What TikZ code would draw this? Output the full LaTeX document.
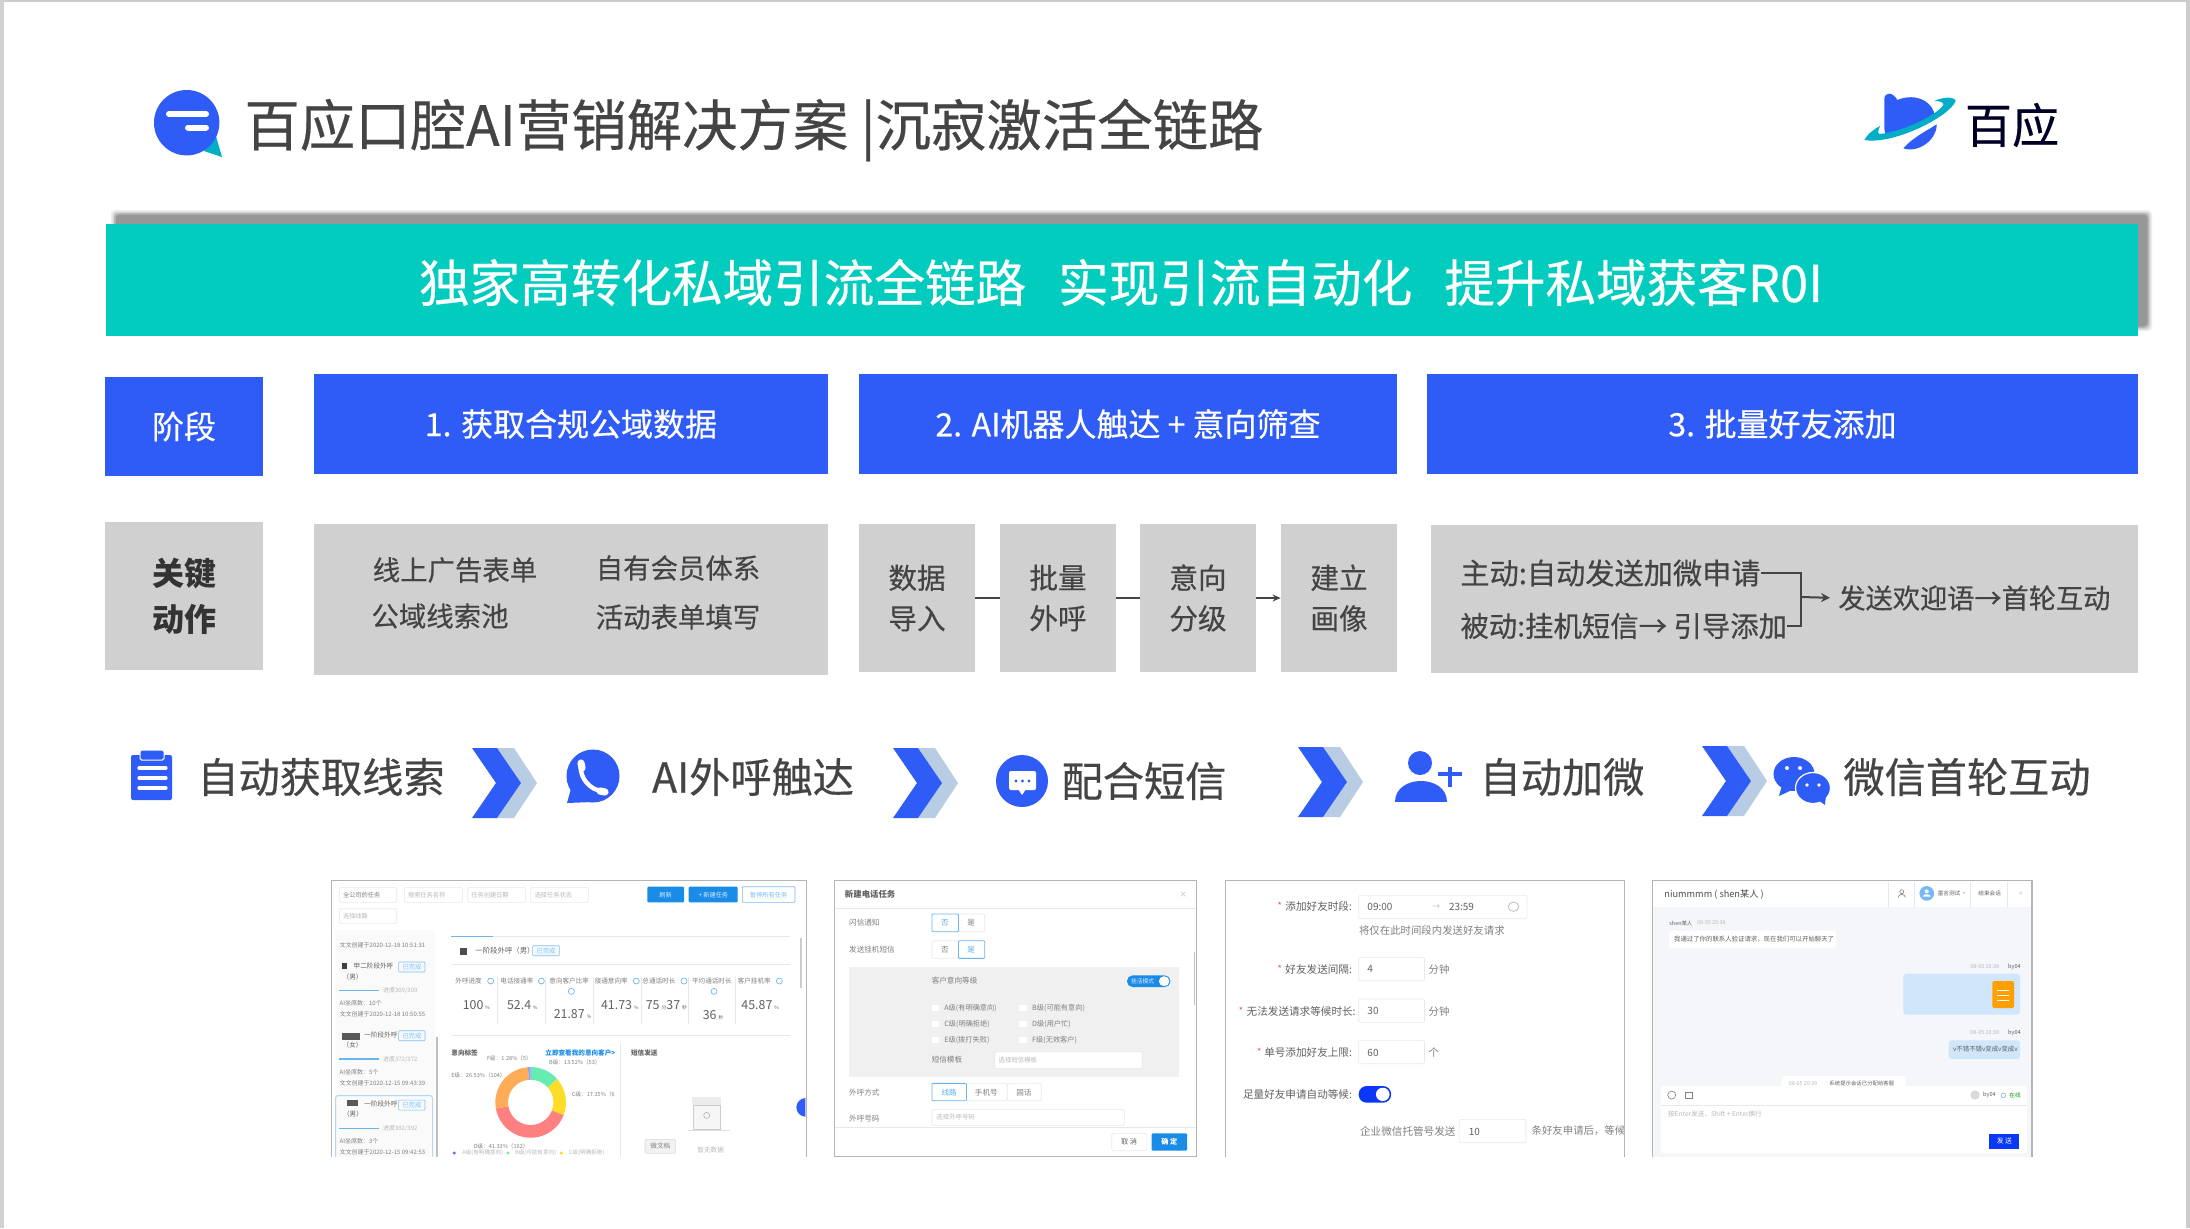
\documentclass[tikz,border=0pt]{standalone}
\usepackage{fontspec}
\setmainfont{Noto Sans CJK SC}
\newfontfamily\medf[FakeBold=0.4]{Noto Sans CJK SC}
\usetikzlibrary{arrows.meta,calc}
\definecolor{bblue}{HTML}{2F5CF6}
\definecolor{teal}{HTML}{02CCBD}
\definecolor{keygray}{HTML}{D0D0D0}
\definecolor{tdark}{HTML}{444444}
\definecolor{chevl}{HTML}{B8CCE4}
\definecolor{uiblue}{HTML}{1A8CE8}
\definecolor{uibord}{HTML}{E6E8EC}
\definecolor{uitext}{HTML}{808080}
\definecolor{uidark}{HTML}{606060}
\definecolor{uilight}{HTML}{B8B8B8}
\definecolor{frame}{HTML}{B4B4B4}
\definecolor{chatbg}{HTML}{F4F6FA}
\definecolor{bubble}{HTML}{CFE6FB}
\newcommand{\fs}[1]{\fontsize{#1pt}{#1pt}\selectfont}
\newcounter{uic}
\newcommand{\ui}[5]{\stepcounter{uic}\node[anchor=west,inner sep=0pt,text=#4,font=\fs{#3}] (u\theuic) at (#1,#2) {#5};}
\newcommand{\ur}[5]{\stepcounter{uic}\node[anchor=east,inner sep=0pt,text=#4,font=\fs{#3}] (u\theuic) at (#1,#2) {#5};}
\newcommand{\uc}[5]{\stepcounter{uic}\node[anchor=center,inner sep=0pt,text=#4,font=\fs{#3}] (u\theuic) at (#1,#2) {#5};}
\newcommand{\ubox}[3]{\draw[draw=uibord,fill=#3,line width=0.35pt,rounded corners=0.7pt] (#1) rectangle (#2);}
\newcommand{\chev}[2]{\begin{scope}[shift={(#1,#2)}]
\fill[chevl] (25,0)--(42,0)--(65,35)--(42,70)--(25,70)--(49,35)--cycle;
\fill[bblue] (0,0)--(25,0)--(49,35)--(25,70)--(0,70)--(24,35)--cycle;
\end{scope}}
\newcommand{\badge}[3]{\draw[draw=uiblue!55,fill=uiblue!5,line width=0.3pt,rounded corners=0.4pt] (#1,#2) rectangle (#3,#2+30);\uc{#1/2+#3/2}{#2+15}{3.2}{uiblue!55}{已完成}}
\newcommand{\qm}[2]{\draw[uiblue!70,line width=0.3pt] (#1,#2) circle[radius=9];}
\newcommand{\seg}[3]{\fill[#3] (#1:106) arc[start angle=#1,end angle=#2,radius=106] -- (#2:68) arc[start angle=#2,end angle=#1,radius=68] -- cycle;}
\newcommand{\dn}[1]{\raisebox{-1.4pt}{#1}}
\tikzset{
 stagebox/.style={fill=bblue,text=white,inner sep=0pt,font=\medf\fs{16}},
 keybox/.style={fill=keygray,text=tdark,inner sep=0pt,font=\medf\fs{14.3},align=center},
 steptext/.style={anchor=center,inner sep=0pt,text=tdark,font=\medf\fs{20.6}},
 smalltext/.style={anchor=center,inner sep=0pt,text=tdark,font=\medf\fs{13.7}},
 link/.style={draw=tdark,line width=0.8pt},
 s1/.style={x=0.16667pt,y=-0.16667pt,shift={(930,2610)}},
 s23/.style={x=0.2615pt,y=-0.16667pt,shift={(1567.8,2610)}},
 s4/.style={x=0.16667pt,y=-0.16667pt,shift={(4890,2610)}},
 framed/.style={draw=frame,line width=0.75pt},
}
\begin{document}
\begin{tikzpicture}[x=0.5pt,y=-0.5pt]
\useasboundingbox (0,0) rectangle (2190,1228);
\fill[white] (0,0) rectangle (2190,1228);
% page edges
\fill[black!20] (0,0) rectangle (2190,2);
\fill[black!18] (0,0) rectangle (4,1228);
\fill[black!20] (2186,0) rectangle (2190,1228);

% header logo
\fill[teal!85!blue] (204,151)--(216,136)--(222,157)--cycle;
\fill[bblue] (186.7,122.7) circle[radius=32.7];
\draw[white,line width=3pt,line cap=round] (169,114)--(206,114);
\draw[white,line width=3pt,line cap=round] (188,127.5)--(206,127.5);
\node[anchor=west,inner sep=0pt,text=tdark,font=\medf\fs{27.7}] (title) at (244,130) {百应口腔AI营销解决方案 |沉寂激活全链路};

% right logo
\begin{scope}[x=0.16667pt,y=-0.16667pt,shift={(5520,210)}]
\fill[bblue] (133,85) .. controls (135,66) and (158,65) .. (172,90) .. controls (230,65) and (285,100) .. (283,140) .. controls (240,165) and (190,190) .. (150,197) .. controls (135,195) and (133,185) .. (133,175) -- cycle;
\fill[bblue] (190,235) .. controls (215,205) and (255,185) .. (290,163) .. controls (290,210) and (235,250) .. (190,235) -- cycle;
\fill[teal!85!blue] (73,210) .. controls (160,225) and (330,140) .. (347,92) .. controls (340,78) and (305,82) .. (283,93) .. controls (300,93) and (312,97) .. (310,105) .. controls (290,135) and (190,185) .. (118,192) .. controls (112,190) and (115,178) .. (120,168) .. controls (100,178) and (80,195) .. (73,210) -- cycle;
\end{scope}
\node[inner sep=0pt,text=black!85!blue,font=\medf\fs{23.6}] (logotext) at (2012,125) {百应};

% banner
\foreach \g/\o in {5/0.12,3.5/0.2,2/0.3,0.5/0.45}{
 \fill[black!55,opacity=\o,rounded corners=2pt] (116-\g,215-\g) rectangle (2147+\g,326+\g);
}
\node[fill=teal,minimum width=1016pt,minimum height=56pt,inner sep=0pt] (banner) at (1122,280) {};
\node[inner sep=0pt,text=white,font=\medf\fs{25.3}] (bannertext) at (1121,282.5) {独家高转化私域引流全链路\hspace{16pt}实现引流自动化\hspace{16pt}提升私域获客R0I};

% stage row
\node[stagebox,minimum width=79pt,minimum height=49.5pt] (st0) at (184,426.5) {\raisebox{-0.7pt}{阶段}};
\node[stagebox,minimum width=257pt,minimum height=50pt] (st1) at (571,424) {\dn{1. 获取合规公域数据}};
\node[stagebox,minimum width=269pt,minimum height=50pt] (st2) at (1128,424) {\dn{2. AI机器人触达 + 意向筛查}};
\node[stagebox,minimum width=355.5pt,minimum height=50pt] (st3) at (1782.5,424) {\dn{3. 批量好友添加}};

% key row
\node[keybox,minimum width=79pt,minimum height=74pt,font=\bfseries\fs{16},text=black!80] (k0) at (184,596) {关键\\[7pt]动作};
\node[keybox,minimum width=257pt,minimum height=75.5pt] (k1) at (571,599.5) {};
\node[smalltext] (k1a) at (455,570) {线上广告表单};
\node[smalltext] (k1b) at (440,616) {公域线索池};
\node[smalltext] (k1c) at (678,568) {自有会员体系};
\node[smalltext] (k1d) at (678,617) {活动表单填写};
\node[keybox,minimum width=58pt,minimum height=74pt] (d1) at (917,598) {数据\\[6pt]导入};
\node[keybox,minimum width=58pt,minimum height=74pt] (d2) at (1058,598) {批量\\[6pt]外呼};
\node[keybox,minimum width=58pt,minimum height=74pt] (d3) at (1198,598) {意向\\[6pt]分级};
\node[keybox,minimum width=58pt,minimum height=74pt] (d4) at (1339,598) {建立\\[6pt]画像};
\draw[link] (d1) -- (d2);
\draw[link] (d2) -- (d3);
\draw[link,-{Stealth[length=4pt,width=3.5pt]}] (d3) -- (d4);
\node[keybox,minimum width=353.5pt,minimum height=74pt] (k5) at (1784.5,599) {};
\node[inner sep=0pt,anchor=west,text=tdark,font=\medf\fs{14.6}] (a1) at (1460,573) {主动:自动发送加微申请};
\node[inner sep=0pt,anchor=west,text=tdark,font=\medf\fs{14.2}] (a2) at (1460,626) {被动:挂机短信→ 引导添加};
\node[inner sep=0pt,anchor=west,text=tdark,font=\medf\fs{13.6}] (a3) at (1838,598) {发送欢迎语→首轮互动};
\coordinate (jn) at (1801,597);
\draw[link] (a1.east) -| (jn);
\draw[link] (a2.east) -| (jn);
\draw[link,line width=1pt,-{Stealth[length=4.5pt,width=4.5pt]},shorten >=4pt] (jn) -- (a3.west);

% step row
\fill[bblue,rounded corners=1pt] (131,755) rectangle (172,800);
\fill[bblue,draw=white,line width=0.5pt,rounded corners=0.8pt] (140,750) rectangle (164,760);
\foreach \yy in {768,778,788}{\draw[white,line width=1.6pt,line cap=round] (139,\yy)--(166,\yy);}
\node[steptext] (t1) at (321,777) {自动获取线索};
\chev{472}{748}
\fill[bblue] (593,776) circle[radius=26.5];
\fill[bblue] (572,785)--(567,803)--(592,802)--cycle;
\draw[white,line width=2.2pt,line cap=round] (581,765) .. controls (579,778) and (591,791) .. (603,791);
\draw[white,line width=3.6pt,line cap=round] (581,763)--(582,768);
\draw[white,line width=3.6pt,line cap=round] (600,791)--(605,792);
\node[steptext] (t2) at (753,777) {AI外呼触达};
\chev{893}{748}
\fill[bblue] (1022,781) circle[radius=26];
\fill[white,rounded corners=1pt] (1009,771) rectangle (1036,790);
\fill[white] (1018,789)--(1026,789)--(1022,795)--cycle;
\foreach \xx in {1016,1022.5,1029}{\fill[bblue] (\xx,781) circle[radius=1.7];}
\node[steptext] (t3) at (1144,781) {配合短信};
\chev{1298}{747}
\fill[bblue] (1420,763) circle[radius=12];
\fill[bblue] (1395,802) .. controls (1395,774) and (1447,774) .. (1447,802) -- cycle;
\draw[bblue,line width=1.6pt] (1438,774)--(1462,774);
\draw[bblue,line width=1.6pt] (1450,767)--(1450,787);
\node[steptext] (t4) at (1562,777) {自动加微};
\chev{1702}{746}
\fill[bblue] (1794,774) ellipse[x radius=20.5,y radius=17];
\fill[bblue] (1782,785)--(1779,796)--(1794,789)--cycle;
\fill[white] (1787,768) circle[radius=2];
\fill[white] (1800,768) circle[radius=2];
\fill[bblue,draw=white,line width=0.6pt] (1813,788) ellipse[x radius=17.5,y radius=15.5];
\fill[bblue] (1818,800)--(1825,805)--(1826,795)--cycle;
\fill[white] (1807,785) circle[radius=1.8];
\fill[white] (1819,785) circle[radius=1.8];
\node[steptext] (t5) at (1967,777) {微信首轮互动};

% ---------- screenshot 1 ----------
\begin{scope}[s1]
\fill[white] (65,32) rectangle (1490,860);
\fill[black!2] (75,180) rectangle (375,860);
\ubox{88,52}{260,97}{white}\ui{98}{74}{3.1}{uitext}{全公司的任务}
\ubox{283,52}{457,97}{white}\ui{293}{74}{3.1}{uilight}{搜索任务名称}
\ubox{473,52}{646,97}{white}\ui{483}{74}{3.1}{uilight}{任务创建日期}
\ubox{661,52}{835,97}{white}\ui{673}{74}{3.1}{uilight}{选择任务状态}
\ubox{88,116}{260,160}{white}\ui{98}{138}{3.1}{uilight}{选择线路}
\fill[uiblue,rounded corners=0.5pt] (1012,50) rectangle (1122,97);\uc{1067}{74}{3.1}{white!85!uiblue}{刷新}
\fill[uiblue,rounded corners=0.5pt] (1136,50) rectangle (1283,97);\uc{1210}{74}{3.1}{white!85!uiblue}{+ 新建任务}
\draw[uiblue!60,fill=white,line width=0.35pt,rounded corners=0.5pt] (1297,50) rectangle (1455,97);\uc{1376}{74}{3.1}{uiblue!60}{暂停所有任务}
\ui{88}{226}{3}{uitext}{文文创建于2020-12-18 10:51:31}
% card 2
\fill[black!75] (95,278) rectangle (112,296);
\ui{130}{289}{3.3}{uidark}{甲二阶段外呼}\ui{97}{320}{3.3}{uidark}{（男）}\badge{266}{276}{345}
\draw[uiblue!65,line width=0.8pt] (88,361)--(206,361);\ui{218}{361}{3}{uilight}{进度309/309}
\ui{88}{399}{3}{uitext}{AI坐席数：10个}\ui{88}{432}{3}{uitext}{文文创建于2020-12-18 10:50:55}
% card 3
\fill[black!65] (95,490) rectangle (150,510);
\ui{162}{495}{3.3}{uidark}{一阶段外呼}\ui{97}{526}{3.3}{uidark}{（女）}\badge{266}{482}{345}
\draw[uiblue!65,line width=0.8pt] (88,567)--(206,567);\ui{218}{567}{3}{uilight}{进度372/372}
\ui{88}{605}{3}{uitext}{AI坐席数：5个}\ui{88}{638}{3}{uitext}{文文创建于2020-12-15 09:43:39}
% card 4
\draw[uiblue!50,line width=0.35pt,rounded corners=1pt] (77,860)--(77,677)--(367,677)--(367,860);
\fill[black!65] (112,690) rectangle (145,708);
\ui{162}{703}{3.3}{uidark}{一阶段外呼}\ui{98}{733}{3.3}{uidark}{（男）}\badge{266}{690}{345}
\draw[uiblue!65,line width=0.8pt] (88,775)--(206,775);\ui{218}{775}{3}{uilight}{进度392/392}
\ui{88}{813}{3}{uitext}{AI坐席数：3个}\ui{88}{846}{3}{uitext}{文文创建于2020-12-15 09:42:53}
\draw[black!25,line width=0.8pt] (381,500)--(381,860);
% detail head
\draw[uibord,line width=0.3pt] (423,198)--(1440,198);
\draw[uiblue!65,line width=0.5pt] (423,198)--(550,198);
\fill[black!70] (450,235) rectangle (472,255);
\ui{495}{241}{3.7}{uidark}{一阶段外呼（男）}\badge{668}{227}{748}
\draw[uibord,line width=0.3pt] (423,284)--(1440,284);
\ui{435}{333}{3.3}{uitext}{外呼进度}\qm{542}{333}
\ui{570}{333}{3.3}{uitext}{电话接通率}\qm{694}{333}
\ui{717}{333}{3.3}{uitext}{意向客户比率}\qm{784}{364}
\ui{853}{333}{3.3}{uitext}{接通意向率}\qm{979}{333}
\ui{996}{333}{3.3}{uitext}{总通话时长}\qm{1122}{333}
\ui{1145}{333}{3.3}{uitext}{平均通话时长}\qm{1212}{364}
\ui{1282}{333}{3.3}{uitext}{客户挂机率}\qm{1408}{333}
\foreach \xx in {563,706,850,993,1135,1277}{\draw[uibord,line width=0.25pt] (\xx,320)--(\xx,462);}
\ui{457}{404}{6.2}{uidark}{100\,{\fs{2.4}\%}}
\ui{590}{404}{6.2}{uidark}{52.4\,{\fs{2.4}\%}}
\ui{730}{431}{6.2}{uidark}{21.87\,{\fs{2.4}\%}}
\ui{872}{404}{6.2}{uidark}{41.73\,{\fs{2.4}\%}}
\ui{1006}{404}{6.2}{uidark}{75\,{\fs{2.4}分}37\,{\fs{2.4}秒}}
\ui{1177}{434}{6.2}{uidark}{36\,{\fs{2.4}秒}}
\ui{1293}{404}{6.2}{uidark}{45.87\,{\fs{2.4}\%}}
\draw[uibord,line width=0.3pt] (423,497)--(1440,497);
\draw[uibord,line width=0.25pt] (932,520)--(932,860);
\ui{423}{550}{3.3}{uidark}{\bfseries 意向标签}
\ui{705}{550}{3.3}{uiblue}{\bfseries 立即查看我的意向客户>}
\ui{962}{549}{3.3}{uidark}{\bfseries 短信发送}
% donut
\begin{scope}[shift={(662,697)}]
\seg{-90}{-41.3}{green!35!teal!60!white}
\seg{-41.3}{21.2}{yellow!75!orange!85!white}
\seg{21.2}{170}{red!50!white}
\seg{170}{265.5}{orange!65!white}
\seg{265.5}{270}{blue!40!white}
\end{scope}
\ui{530}{565}{2.8}{uitext}{F级：1.28\%（5）}
\ui{716}{577}{2.8}{uitext}{B级：13.52\%（53）}
\ui{423}{617}{2.8}{uitext}{E级：26.53\%（104）}
\ui{785}{674}{2.8}{uitext}{C级：17.35\%（6}
\ui{490}{828}{2.8}{uitext}{D级：41.33\%（162）}
\fill[blue!60!white] (433,849) circle[radius=5];\ui{456}{849}{2.8}{uilight}{A级(有明确意向)}
\fill[green!50!teal!60!white] (594,849) circle[radius=5];\ui{614}{849}{2.8}{uilight}{B级(可能有意向)}
\fill[yellow!80!orange] (754,849) circle[radius=5];\ui{776}{849}{2.8}{uilight}{C级(明确拒绝)}
% empty icon
\fill[black!8] (1147,682) rectangle (1232,705);
\draw[black!20,fill=black!4,line width=0.5pt] (1150,705) rectangle (1230,778);
\draw[black!30,line width=0.3pt] (1190,736) circle[radius=9];
\draw[black!12,line width=0.3pt] (1135,782)--(1260,782);
\uc{1202}{839}{3.3}{uilight}{暂无数据}
\draw[black!15,fill=black!5,line width=0.3pt,rounded corners=1pt] (1005,808) rectangle (1097,850);
\uc{1051}{828}{3.3}{uitext}{微文档}
\draw[black!20,line width=0.8pt] (1472,205)--(1472,355);
\begin{scope}
\clip (1440,670) rectangle (1486,760);
\fill[bblue] (1487,712) circle[radius=28];
\end{scope}
\draw[framed] (65,862)--(65,32)--(1490,32)--(1490,862);
\end{scope}

% ---------- screenshots 2 and 3 ----------
\begin{scope}[s23]
\fill[white] (28,32) rectangle (720,860);
\ui{47}{74}{4.2}{uidark}{\bfseries 新建电话任务}\uc{695}{74}{4}{uilight}{×}
\draw[uibord,line width=0.3pt] (28,115)--(720,115);
\ui{55}{158}{3.8}{uitext}{闪信通知}
\ubox{265,132}{315,185}{white}\draw[uiblue!65,fill=white,line width=0.4pt,rounded corners=0.5pt] (214,132) rectangle (265,185);\uc{239}{158}{3.8}{uiblue!70}{否}\uc{289}{158}{3.8}{uitext}{是}
\ui{55}{238}{3.8}{uitext}{发送挂机短信}
\ubox{214,212}{265,265}{white}\draw[uiblue!65,fill=white,line width=0.4pt,rounded corners=0.5pt] (265,212) rectangle (315,265);\uc{239}{238}{3.8}{uitext}{否}\uc{289}{238}{3.8}{uiblue!70}{是}
\fill[black!6] (55,292) rectangle (687,622);
\ui{213}{333}{3.8}{uitext}{客户意向等级}
\fill[uiblue,rounded corners=2.8pt] (587,316) rectangle (670,351);
\fill[white] (658,333.5) ellipse[x radius=10,y radius=15];\ui{594}{333}{2.9}{white!85!uiblue}{挂活模式}
\foreach \yy/\aa/\bb in {415/A级(有明确意向)/B级(可能有意向),463/C级(明确拒绝)/D级(用户忙),511/E级(拨打失败)/F级(无效客户)}{
 \fill[white] (214,\yy-9) rectangle (228,\yy+9);
 \fill[white] (381,\yy-9) rectangle (395,\yy+9);
 \ui{237}{\yy}{3.6}{uitext}{\aa}
 \ui{405}{\yy}{3.6}{uitext}{\bb}
}
\ui{213}{570}{3.8}{uitext}{短信模板}
\ubox{334,545}{616,595}{white}\ui{341}{570}{3.2}{uilight}{选择短信模板}
\ui{55}{667}{3.8}{uitext}{外呼方式}
\ubox{280,640}{358,692}{white}\ubox{358,640}{423,692}{white}
\draw[uiblue!65,fill=white,line width=0.4pt,rounded corners=0.5pt] (214,640) rectangle (280,692);
\uc{247}{667}{3.8}{uiblue!70}{线路}\uc{318}{667}{3.8}{uitext}{手机号}\uc{390}{667}{3.8}{uitext}{固话}
\ui{55}{745}{3.8}{uitext}{外呼号码}
\ubox{214,718}{582,766}{white}\ui{222}{742}{3.2}{uilight}{选择外呼号码}
\draw[uibord,line width=0.3pt] (28,772)--(720,772);
\ubox{558,790}{625,842}{white}\uc{591}{816}{3.6}{uidark}{取 消}
\fill[uiblue,rounded corners=0.6pt] (634,790) rectangle (702,842);\uc{668}{816}{3.6}{white}{\bfseries 确 定}
\draw[black!25,line width=0.8pt] (716,245)--(716,405);
\draw[framed] (28,32) rectangle (720,860);

% screenshot 3
\fill[white] (775,32) rectangle (1538,860);
\uc{879}{108}{4.6}{red!70}{*}\ur{1018}{110}{5.3}{uidark}{添加好友时段:}
\ubox{1030,76}{1352,146}{white}\ui{1046}{110}{5}{uidark}{09:00}\uc{1178}{112}{4}{uilight}{→}\ui{1202}{110}{5}{uidark}{23:59}
\draw[uilight,line width=0.35pt] (1326,110) ellipse[x radius=10,y radius=14];
\ui{1030}{180}{5.2}{uitext}{将仅在此时间段内发送好友请求}
\uc{879}{296}{4.6}{red!70}{*}\ur{1018}{298}{5.3}{uidark}{好友发送间隔:}
\ubox{1030,262}{1156,332}{white}\ui{1046}{298}{5}{uidark}{4}\ui{1163}{298}{5.2}{uitext}{分钟}
\uc{805}{422}{4.6}{red!70}{*}\ur{1025}{424}{5.3}{uidark}{无法发送请求等候时长:}
\ubox{1030,387}{1156,457}{white}\ui{1046}{424}{5}{uidark}{30}\ui{1163}{424}{5.2}{uitext}{分钟}
\uc{840}{546}{4.6}{red!70}{*}\ur{1018}{548}{5.3}{uidark}{单号添加好友上限:}
\ubox{1030,511}{1156,581}{white}\ui{1046}{548}{5}{uidark}{60}\ui{1163}{548}{5.2}{uitext}{个}
\ur{1018}{673}{5.3}{uidark}{足量好友申请自动等候:}
\fill[blue!60!uiblue,rounded corners=4pt] (1030,648) rectangle (1092,698);
\fill[white] (1076,673) ellipse[x radius=13,y radius=20];
\ui{1032}{783}{5.3}{uitext}{企业微信托管号发送}
\ubox{1222,748}{1350,818}{white}\ui{1240}{785}{5}{uidark}{10}
\begin{scope}
\clip (1355,740) rectangle (1538,830);
\ui{1360}{783}{5.2}{uitext}{条好友申请后，等候发送}
\end{scope}
\draw[framed] (775,862)--(775,32)--(1538,32)--(1538,862);
\end{scope}

% ---------- screenshot 4 ----------
\begin{scope}[s4]
\fill[chatbg] (68,32) rectangle (1205,860);
\fill[white] (68,32) rectangle (1205,110);
\ui{102}{72}{4.6}{black!70}{niummmm ( shen某人 )}
\foreach \xx in {775,853,1020,1132}{\draw[uibord,line width=0.2pt] (\xx,35)--(\xx,110);}
\draw[uitext,line width=0.3pt] (815,65) circle[radius=6];
\draw[uitext,line width=0.3pt] (804,82) .. controls (806,70) and (824,70) .. (826,82);
\fill[uiblue!60] (890,70) circle[radius=22];
\fill[white] (890,64) circle[radius=6];
\fill[white] (878,80) .. controls (880,70) and (900,70) .. (902,80) -- cycle;
\ui{922}{70}{2.8}{uidark}{墨言测试 ·}\ui{1044}{70}{2.8}{uidark}{结束会话}\uc{1172}{70}{3.6}{uilight}{«}
\ui{117}{159}{2.7}{uidark}{shen某人}\ui{200}{159}{2.7}{uilight}{08-05 20:38}
\fill[white,rounded corners=1.5pt] (117,182) rectangle (618,235);
\ui{131}{208}{3.2}{uidark}{我通过了你的联系人验证请求，现在我们可以开始聊天了}
\ui{1020}{290}{2.7}{uilight}{08-05 20:38}\ui{1133}{290}{2.8}{uidark}{by04}
\fill[bubble,rounded corners=1.5pt] (820,311) rectangle (1170,434);
\fill[orange!75!yellow,rounded corners=1pt] (1087,333) rectangle (1152,414);
\foreach \yy in {360,375,390}{\draw[white,line width=0.4pt] (1102,\yy)--(1137,\yy);}
\ui{1020}{488}{2.7}{uilight}{08-05 20:38}\ui{1133}{488}{2.8}{uidark}{by04}
\fill[bubble,rounded corners=1.5pt] (956,511) rectangle (1170,567);
\ui{968}{538}{3.2}{uidark}{v不错不错v变成v变成v}
\fill[white,rounded corners=1.5pt] (455,618) rectangle (827,660);
\ui{475}{640}{2.7}{uilight}{08-05 20:39}\ui{597}{640}{2.7}{uidark}{系统提示会话已分配给客服}
\fill[white,rounded corners=1.5pt] (92,648) rectangle (1190,850);
\draw[uibord,line width=0.25pt] (92,706)--(1190,706);
\draw[uitext,line width=0.3pt] (125,675) circle[radius=12];
\draw[uitext,line width=0.3pt] (166,666) rectangle (186,684);
\fill[black!15] (1035,675) circle[radius=14];
\ui{1058}{676}{2.8}{uidark}{by04}\draw[uiblue!60,line width=0.3pt] (1120,676) circle[radius=7];\ui{1137}{676}{2.8}{green!60!black}{在线}
\ui{113}{733}{3.3}{uilight}{按Enter发送，Shift + Enter换行}
\fill[blue!60!uiblue] (1078,792) rectangle (1168,836);\uc{1123}{814}{3.4}{white}{发 送}
\draw[framed] (68,862)--(68,32)--(1205,32)--(1205,862);
\end{scope}
\end{tikzpicture}
\end{document}
